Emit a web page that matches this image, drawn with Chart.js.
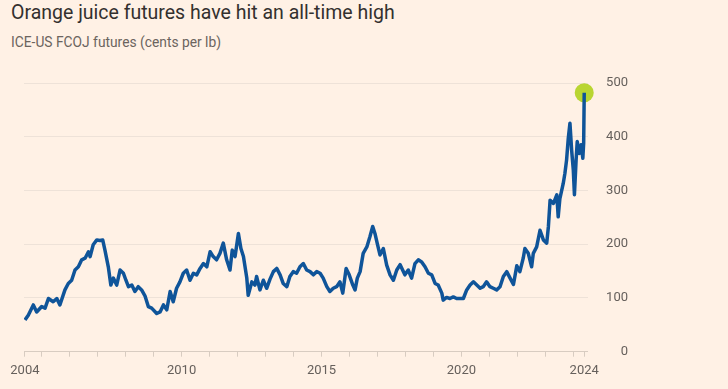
<!DOCTYPE html>
<html>
<head>
<meta charset="utf-8">
<script src="https://cdn.jsdelivr.net/npm/chart.js@4"></script>
<style>
  html, body { margin: 0; padding: 0; background: #fff1e5; }
  #wrap { position: relative; width: 728px; height: 389px; }
  #title { position: absolute; left: 11px; top: 1px; font: 19.5px Roboto, sans-serif; color: #33302e; white-space: nowrap; }
  #subtitle { position: absolute; left: 11px; top: 34px; font: 13.8px Roboto, sans-serif; color: #6b645e; white-space: nowrap; }
  canvas { position: absolute; left: 0; top: 0; }
</style>
</head>
<body>
<div id="wrap">
  <div id="title">Orange juice futures have hit an all-time high</div>
  <div id="subtitle">ICE-US FCOJ futures (cents per lb)</div>
  <canvas id="ojChart" width="728" height="389"></canvas>
</div>
<script>
// data (decimal year, cents per lb)
const years = [
  2004.40, 2004.52, 2004.70, 2004.82, 2005.00, 2005.12, 2005.24, 2005.41, 2005.54, 2005.65,
  2005.83, 2005.95, 2006.07, 2006.19, 2006.31, 2006.43, 2006.55, 2006.67, 2006.73, 2006.84,
  2006.97, 2007.08, 2007.18, 2007.26, 2007.38, 2007.47, 2007.56, 2007.68, 2007.80, 2007.92,
  2008.01, 2008.10, 2008.22, 2008.33, 2008.45, 2008.57, 2008.69, 2008.81, 2008.93, 2009.11,
  2009.23, 2009.35, 2009.47, 2009.59, 2009.70, 2009.82, 2009.94, 2010.06, 2010.18, 2010.30,
  2010.42, 2010.54, 2010.66, 2010.78, 2010.90, 2011.02, 2011.13, 2011.25, 2011.37, 2011.49,
  2011.61, 2011.73, 2011.81, 2011.91, 2012.03, 2012.12, 2012.21, 2012.33, 2012.38, 2012.51,
  2012.62, 2012.68, 2012.80, 2012.92, 2013.04, 2013.16, 2013.28, 2013.40, 2013.52, 2013.63,
  2013.76, 2013.87, 2013.99, 2014.11, 2014.23, 2014.35, 2014.47, 2014.59, 2014.71, 2014.83,
  2014.95, 2015.06, 2015.19, 2015.30, 2015.42, 2015.54, 2015.66, 2015.76, 2015.88, 2015.99,
  2016.12, 2016.20, 2016.28, 2016.38, 2016.49, 2016.62, 2016.73, 2016.83, 2016.91, 2016.99,
  2017.09, 2017.21, 2017.33, 2017.45, 2017.57, 2017.69, 2017.81, 2017.98, 2018.10, 2018.22,
  2018.34, 2018.46, 2018.58, 2018.70, 2018.82, 2018.94, 2019.06, 2019.17, 2019.30, 2019.35,
  2019.47, 2019.59, 2019.71, 2019.83, 2019.95, 2020.07, 2020.19, 2020.31, 2020.43, 2020.55,
  2020.67, 2020.78, 2020.90, 2021.02, 2021.14, 2021.26, 2021.38, 2021.50, 2021.62, 2021.74,
  2021.86, 2021.98, 2022.09, 2022.21, 2022.27, 2022.39, 2022.51, 2022.57, 2022.69, 2022.81,
  2022.93, 2023.05, 2023.11, 2023.17, 2023.29, 2023.41, 2023.46, 2023.52, 2023.64, 2023.70,
  2023.76, 2023.82, 2023.88, 2023.94, 2024.00, 2024.04, 2024.10, 2024.14, 2024.21, 2024.28,
  2024.34, 2024.37, 2024.39
];
const prices = [
  59, 68, 87, 74, 84, 81, 99, 93, 99, 87,
  115, 127, 133, 152, 158, 171, 174, 186, 177, 199,
  208, 207, 208, 189, 158, 124, 137, 124, 152, 146,
  133, 121, 124, 112, 121, 115, 104, 84, 81, 71,
  74, 87, 78, 112, 93, 118, 130, 146, 152, 133,
  146, 143, 155, 164, 158, 186, 177, 171, 183, 202,
  171, 152, 189, 177, 220, 192, 177, 137, 105, 130,
  124, 140, 115, 133, 118, 135, 149, 155, 143, 127,
  121, 140, 149, 146, 158, 164, 152, 149, 143, 149,
  146, 137, 121, 112, 118, 121, 130, 109, 155, 143,
  124, 115, 137, 149, 183, 195, 214, 233, 220, 202,
  180, 192, 161, 143, 133, 152, 162, 143, 152, 137,
  164, 171, 167, 158, 146, 143, 127, 124, 109, 96,
  101, 99, 102, 99, 99, 99, 115, 124, 130, 124,
  118, 121, 130, 121, 118, 115, 121, 140, 149, 137,
  125, 160, 149, 174, 192, 183, 158, 183, 195, 226,
  208, 202, 233, 282, 276, 292, 251, 285, 313, 332,
  357, 397, 425, 375, 338, 292, 357, 391, 369, 385,
  360, 388, 482
];

const yTicks = [0, 100, 200, 300, 400, 500];
const labelYears = [2010, 2015, 2020];

const firstYear = years[0];
const lastYear = years[years.length - 1];
const lastPrice = prices[prices.length - 1];

const points = years.map((y, i) => ({ x: y, y: prices[i] }));

const ctx = document.getElementById('ojChart').getContext('2d');

new Chart(ctx, {
    type: 'line',
    data: {
        datasets: [{
            data: points,
            borderColor: '#0f5499',
            borderWidth: 3.5,
            borderJoinStyle: 'round',
            pointRadius: 0,
            tension: 0,
            order: 0
        }, {
            type: 'scatter',
            data: [{ x: lastYear, y: lastPrice }],
            backgroundColor: '#b9d531',
            borderWidth: 0,
            pointRadius: 9.5,
            clip: false,
            order: 1
        }]
    },
    options: {
        responsive: false,
        animation: false,
        layout: {
            padding: { left: 24, right: 100, top: 83, bottom: 0 }
        },
        plugins: {
            legend: { display: false },
            tooltip: { enabled: false }
        },
        scales: {
            x: {
                type: 'linear',
                min: 2004.367,
                max: 2024.525,
                afterBuildTicks: function(scale) {
                    const t = [{ value: firstYear }];
                    for (let y = 2005; y <= 2024; y++) t.push({ value: y });
                    t.push({ value: lastYear });
                    scale.ticks = t;
                },
                afterFit: function(scale) {
                    scale.height = 37.3;
                    scale.paddingLeft = 0;
                    scale.paddingRight = 0;
                },
                grid: {
                    display: true,
                    drawOnChartArea: false,
                    drawTicks: true,
                    tickLength: 5,
                    color: '#d8ccc1'
                },
                border: { display: false },
                ticks: {
                    autoSkip: false,
                    maxRotation: 0,
                    padding: 6,
                    color: '#66605c',
                    font: { family: 'Roboto', size: 13 },
                    callback: function(value) {
                        if (value === firstYear) return '2004';
                        if (value === lastYear) return '2024';
                        if (labelYears.includes(value)) return String(value);
                        return '';
                    }
                }
            },
            y: {
                position: 'right',
                min: 0,
                max: 500,
                afterBuildTicks: function(scale) {
                    scale.ticks = yTicks.map(v => ({ value: v }));
                },
                afterFit: function(scale) {
                    scale.width = 40;
                    scale.paddingTop = 0;
                    scale.paddingBottom = 0;
                },
                grid: {
                    drawTicks: false,
                    lineWidth: 1,
                    color: function(c) {
                        return c.tick && c.tick.value === 0 ? '#d8ccc1' : '#eee2d8';
                    }
                },
                border: { display: false },
                ticks: {
                    crossAlign: 'far',
                    padding: 4,
                    color: '#66605c',
                    font: { family: 'Roboto', size: 13 }
                }
            }
        }
    }
});
</script>
</body>
</html>
